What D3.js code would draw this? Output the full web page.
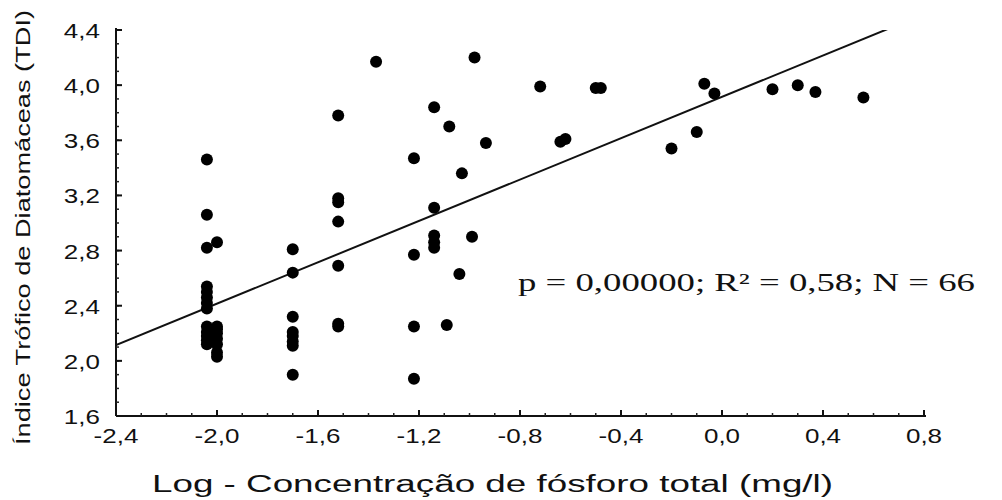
<!DOCTYPE html>
<html><head><meta charset="utf-8">
<script src="https://cdn.jsdelivr.net/npm/d3@7"></script>
<style>body{margin:0;background:#fff}svg{display:block}</style>
</head><body>
<svg id="c" width="1002" height="500"></svg>
<script>
const phosphorusLog = [
  -2.04,-2.04,-2.04,-2.04,-2.04,-2.04,-2.04,-2.04,-2.04,-2.04,-2.04,-2.04,-2.04,
  -2.0,-2.0,-2.0,-2.0,-2.0,-2.0,-2.0,-2.0,
  -1.70,-1.70,-1.70,-1.70,-1.70,-1.70,-1.70,-1.70,
  -1.52,-1.52,-1.52,-1.52,-1.52,-1.52,-1.52,
  -1.37,
  -1.22,-1.22,-1.22,-1.22,
  -1.14,-1.14,-1.14,-1.14,-1.14,
  -1.08,-1.09,-1.03,-1.04,-0.98,-0.99,-0.935,
  -0.72,-0.50,-0.48,-0.64,-0.62,
  -0.20,-0.10,-0.07,-0.03,
  0.20,0.30,0.37,0.56
];
const tdiValues = [
  3.46,3.06,2.82,2.54,2.50,2.46,2.42,2.38,2.25,2.21,2.18,2.15,2.12,
  2.86,2.25,2.23,2.20,2.16,2.12,2.06,2.03,
  2.81,2.64,2.32,2.21,2.18,2.14,2.11,1.90,
  3.78,3.18,3.15,3.01,2.69,2.27,2.25,
  4.17,
  3.47,2.77,2.25,1.87,
  3.84,3.11,2.91,2.86,2.82,
  3.70,2.26,3.36,2.63,4.20,2.90,3.58,
  3.99,3.98,3.98,3.59,3.61,
  3.54,3.66,4.01,3.94,
  3.97,4.00,3.95,3.91
];
const xTicks = [-2.4,-2.0,-1.6,-1.2,-0.8,-0.4,0.0,0.4,0.8];
const xTickLabels = ["-2,4","-2,0","-1,6","-1,2","-0,8","-0,4","0,0","0,4","0,8"];
const yTicks = [1.6,2.0,2.4,2.8,3.2,3.6,4.0,4.4];
const yTickLabels = ["1,6","2,0","2,4","2,8","3,2","3,6","4,0","4,4"];
const regIntercept = 3.915, regSlope = 0.75;
const xTitle = "Log - Concentração de fósforo total (mg/l)";
const yTitle = "Índice Trófico de Diatomáceas (TDI)";
const annotation = "p = 0,00000; R² = 0,58; N = 66";

const svg = d3.select("#c");
const x = d3.scaleLinear().domain([-2.4, 0.8]).range([116, 924]);
const y = d3.scaleLinear().domain([1.6, 4.4]).range([416, 30]);

svg.append("defs").append("clipPath").attr("id","plot")
  .append("rect").attr("x",x(-2.4)).attr("y",y(4.4)).attr("width",x(0.8)-x(-2.4)).attr("height",y(1.6)-y(4.4));

// axes lines
svg.append("line").attr("x1",x(-2.4)).attr("x2",x(-2.4)).attr("y1",y(4.4)-2).attr("y2",y(1.6))
  .attr("stroke","#111").attr("stroke-width",2);
svg.append("line").attr("x1",x(-2.4)).attr("x2",x(0.8)+2).attr("y1",y(1.6)).attr("y2",y(1.6))
  .attr("stroke","#111").attr("stroke-width",2);

// minor ticks
const xMinor = d3.range(33).map(i => -2.4 + i*0.1);
svg.selectAll(".xm").data(xMinor).join("line")
  .attr("x1",d=>x(d)).attr("x2",d=>x(d)).attr("y1",y(1.6)).attr("y2",y(1.6)-3)
  .attr("stroke","#222").attr("stroke-width",1.5);
svg.selectAll(".xM").data(xTicks).join("line")
  .attr("x1",d=>x(d)).attr("x2",d=>x(d)).attr("y1",y(1.6)).attr("y2",y(1.6)-6)
  .attr("stroke","#111").attr("stroke-width",2);
const yMinor = d3.range(29).map(i => 1.6 + i*0.1);
svg.selectAll(".ym").data(yMinor).join("line")
  .attr("x1",x(-2.4)).attr("x2",x(-2.4)+3).attr("y1",d=>y(d)).attr("y2",d=>y(d))
  .attr("stroke","#222").attr("stroke-width",1.5);
svg.selectAll(".yM").data(yTicks).join("line")
  .attr("x1",x(-2.4)).attr("x2",x(-2.4)+6).attr("y1",d=>y(d)).attr("y2",d=>y(d))
  .attr("stroke","#111").attr("stroke-width",2);

// tick labels
const lab = "'Liberation Sans', Arial, sans-serif";
svg.selectAll(".xl").data(xTicks).join("g")
  .attr("transform",d=>`translate(${x(d)},443)`)
  .append("text").attr("transform","scale(1.3,1)").attr("text-anchor","middle")
  .attr("font-family",lab).attr("font-size",20).attr("fill","#111")
  .text((d,i)=>xTickLabels[i]);
svg.selectAll(".yl").data(yTicks).join("g")
  .attr("transform",d=>`translate(100,${y(d)+8})`)
  .append("text").attr("transform","scale(1.3,1)").attr("text-anchor","end")
  .attr("font-family",lab).attr("font-size",20).attr("fill","#111")
  .text((d,i)=>yTickLabels[i]);

// titles
svg.append("text").attr("x",152).attr("y",492).attr("font-family",lab).attr("font-size",23)
  .attr("fill","#111").attr("textLength",681).attr("lengthAdjust","spacingAndGlyphs").text(xTitle);
svg.append("text").attr("transform","translate(30,445) rotate(-90)").attr("font-family",lab)
  .attr("font-size",21).attr("fill","#111").attr("textLength",435).attr("lengthAdjust","spacingAndGlyphs").text(yTitle);

// regression line
svg.append("line").attr("clip-path","url(#plot)")
  .attr("x1",x(-2.4)).attr("y1",y(regIntercept + regSlope*-2.4))
  .attr("x2",x(0.8)).attr("y2",y(regIntercept + regSlope*0.8))
  .attr("stroke","#111").attr("stroke-width",2);

// points
svg.selectAll(".pt").data(phosphorusLog.map((v,i)=>[v,tdiValues[i]])).join("circle")
  .attr("cx",d=>x(d[0])).attr("cy",d=>y(d[1])).attr("r",6).attr("fill","#000");

// annotation
svg.append("text").attr("x",518).attr("y",291).attr("font-family","'Liberation Serif','Times New Roman',serif")
  .attr("font-size",25).attr("fill","#111").attr("textLength",457).attr("lengthAdjust","spacingAndGlyphs")
  .text(annotation);
</script>
</body></html>
